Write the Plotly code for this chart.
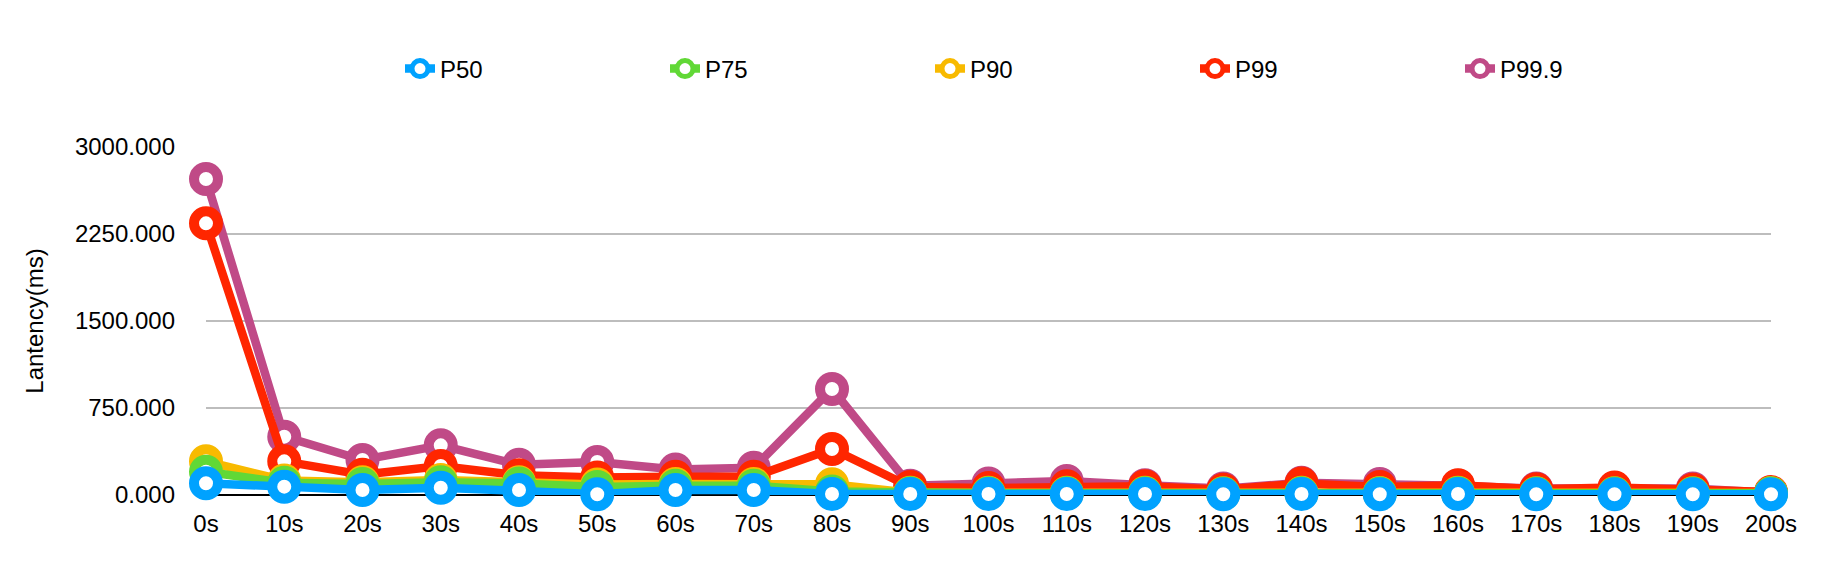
import plotly.graph_objects as go

times = [f"{t}s" for t in range(0, 201, 10)]
p50 = [101, 72, 43, 63, 43, 6, 43, 43, 9, 8, 8, 8, 8, 7, 8, 7, 8, 7, 7, 7, 6]
p75 = [200, 105, 95, 110, 100, 70, 80, 80, 30, 15, 15, 15, 15, 12, 15, 14, 15, 12, 12, 12, 15]
p90 = [290, 125, 110, 130, 110, 90, 95, 95, 92, 20, 20, 20, 20, 15, 20, 18, 20, 15, 15, 15, 18]
p99 = [2342, 290, 175, 250, 170, 150, 158, 158, 397, 70, 60, 75, 75, 45, 100, 70, 85, 50, 65, 45, 25]
p999 = [2724, 503, 302, 428, 260, 285, 220, 235, 914, 80, 100, 120, 85, 55, 105, 95, 80, 55, 60, 55, 20]

series = [
    ("P99.9", p999, "#C04A87", 5),
    ("P99", p99, "#FF2600", 4),
    ("P90", p90, "#F8BA00", 3),
    ("P75", p75, "#61D836", 2),
    ("P50", p50, "#00A2FF", 1),
]

FONT = "Liberation Sans, Arial, Helvetica, sans-serif"

fig = go.Figure()
for name, vals, color, rank in series:
    fig.add_trace(go.Scatter(
        x=times, y=vals, name=name, mode="lines+markers",
        line=dict(color=color, width=8.5),
        marker=dict(symbol="circle", size=24, color="white",
                    line=dict(color=color, width=10)),
        cliponaxis=False, legendrank=rank,
    ))

fig.update_layout(
    width=1832, height=574,
    paper_bgcolor="white", plot_bgcolor="white",
    margin=dict(l=198, r=69, t=139, b=87, autoexpand=False),
    font=dict(family=FONT, size=24, color="black"),
    showlegend=True,
    legend=dict(orientation="h", x=(392 - 198) / 1565, xanchor="left",
                y=1 + (139 - 61) / 348, yanchor="middle",
                entrywidth=220, entrywidthmode="pixels", itemwidth=30,
                font=dict(family=FONT, size=24, color="black"),
                itemsizing="trace"),
)
fig.update_xaxes(
    type="category", range=[0, 20], showgrid=False, showline=False,
    zeroline=False, ticks="", ticklabelstandoff=12,
    tickfont=dict(family=FONT, size=24, color="black"),
)
fig.update_yaxes(
    range=[0, 3000], dtick=750, tick0=0, tickformat=".3f",
    showgrid=True, gridcolor="#BDBDBD", gridwidth=2,
    zeroline=True, zerolinecolor="black", zerolinewidth=2,
    showline=False, ticks="", ticklabelstandoff=30,
    tickfont=dict(family=FONT, size=24, color="black"),
    title=dict(text="Lantency(ms)", standoff=24,
               font=dict(family=FONT, size=24, color="black")),
)

fig.write_html("out.html")
